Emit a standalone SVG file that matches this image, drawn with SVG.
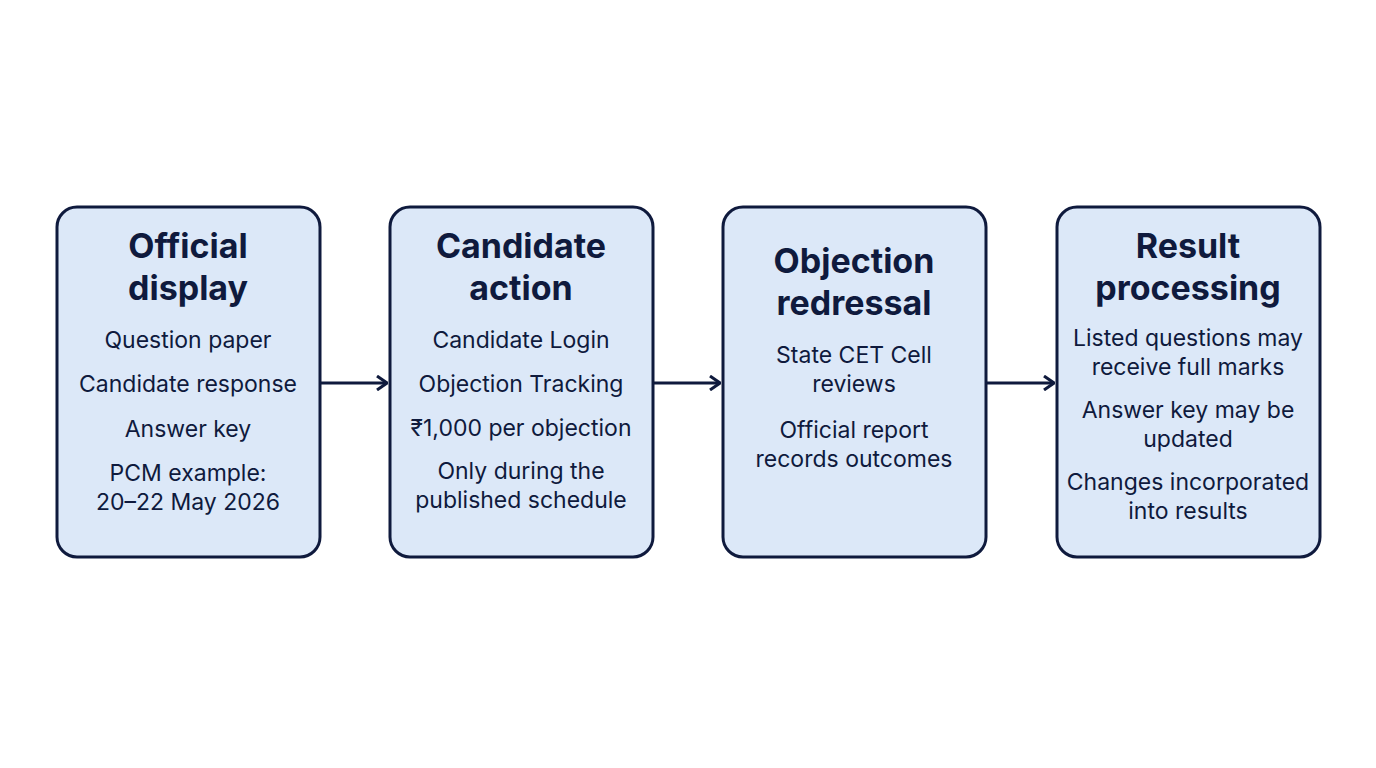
<svg xmlns="http://www.w3.org/2000/svg" width="1376" height="768" viewBox="0 0 1376 768">
<style>
.box{fill:#dce8f8;stroke:#0f1a3d;stroke-width:3}
.t{font-family:Inter,"Noto Sans",sans-serif;font-weight:700;font-size:34px;fill:#0f1a3d;text-anchor:middle}
.b{font-family:Inter,"Noto Sans",sans-serif;font-size:23px;fill:#0f1a3d;text-anchor:middle}
.c{stroke:#0f1a3d;stroke-width:3;fill:none}
</style>
<defs><marker id="a" viewBox="0 0 12 16" refX="11" refY="8" markerWidth="12" markerHeight="16" markerUnits="userSpaceOnUse" orient="auto"><path d="M1 1 L11 8 L1 15" fill="none" stroke="#0f1a3d" stroke-width="3"/></marker></defs>
<rect width="1376" height="768" fill="#fff"/>
<g id="n1"><rect class="box" x="57" y="207" width="263" height="350" rx="20"/>
<text class="t" x="188" y="258">Official</text><text class="t" x="188" y="300">display</text>
<text class="b" x="188" y="348">Question paper</text><text class="b" x="188" y="392">Candidate response</text><text class="b" x="188" y="437">Answer key</text><text class="b" x="188" y="481">PCM example:</text><text class="b" x="188" y="510">20–22 May 2026</text></g>
<g id="n2"><rect class="box" x="390" y="207" width="263" height="350" rx="20"/>
<text class="t" x="521" y="258">Candidate</text><text class="t" x="521" y="300">action</text>
<text class="b" x="521" y="348">Candidate Login</text><text class="b" x="521" y="392">Objection Tracking</text><text class="b" x="521" y="436">₹1,000 per objection</text><text class="b" x="521" y="479">Only during the</text><text class="b" x="521" y="508">published schedule</text></g>
<g id="n3"><rect class="box" x="723" y="207" width="263" height="350" rx="20"/>
<text class="t" x="854" y="273">Objection</text><text class="t" x="854" y="315">redressal</text>
<text class="b" x="854" y="363">State CET Cell</text><text class="b" x="854" y="392">reviews</text><text class="b" x="854" y="438">Official report</text><text class="b" x="854" y="467">records outcomes</text></g>
<g id="n4"><rect class="box" x="1057" y="207" width="263" height="350" rx="20"/>
<text class="t" x="1188" y="258">Result</text><text class="t" x="1188" y="300">processing</text>
<text class="b" x="1188" y="346">Listed questions may</text><text class="b" x="1188" y="375">receive full marks</text><text class="b" x="1188" y="418">Answer key may be</text><text class="b" x="1188" y="447">updated</text><text class="b" x="1188" y="490">Changes incorporated</text><text class="b" x="1188" y="519">into results</text></g>
<g id="connectors">
<line class="c" x1="321" y1="383" x2="387" y2="383" marker-end="url(#a)"/>
<line class="c" x1="654" y1="383" x2="720" y2="383" marker-end="url(#a)"/>
<line class="c" x1="987" y1="383" x2="1054" y2="383" marker-end="url(#a)"/>
</g>
</svg>
